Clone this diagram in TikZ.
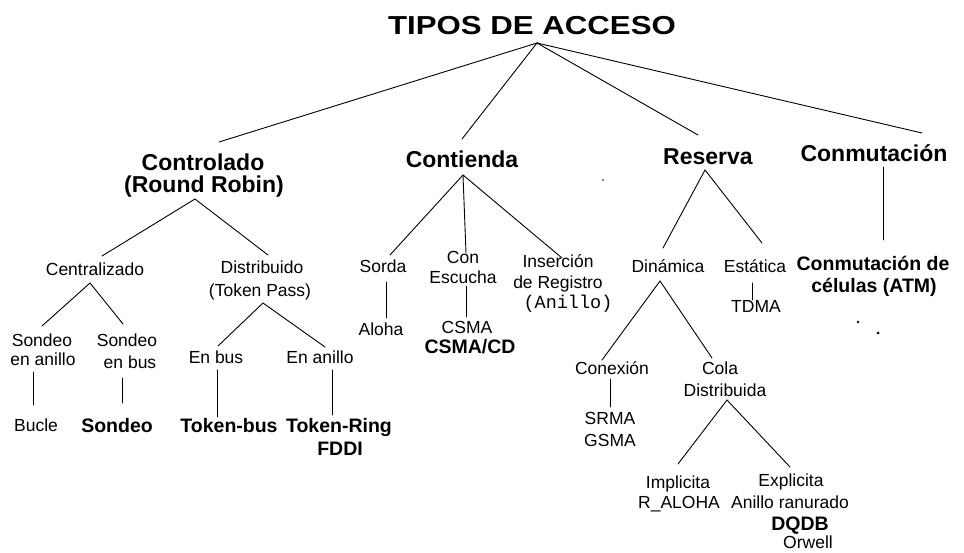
\documentclass[tikz,border=0pt]{standalone}
\usepackage{fontspec}
\setmainfont{Liberation Sans}
\newfontfamily\monofnt{Liberation Mono}
\begin{document}
\begin{tikzpicture}[x=1pt,y=-1pt,
  titlef/.style={font=\fontsize{26}{28}\selectfont\bfseries, inner sep=0pt, anchor=base},
  lone/.style={font=\fontsize{23}{26}\selectfont\bfseries, inner sep=0pt, anchor=base},
  reg/.style={font=\fontsize{17.5}{20}\selectfont, inner sep=0pt, anchor=base},
  bsm/.style={font=\fontsize{19.5}{22}\selectfont\bfseries, inner sep=0pt, anchor=base},
  mono/.style={font=\fontsize{18.5}{20}\monofnt, inner sep=0pt, anchor=base},
  edge/.style={line width=0.9pt, line cap=round}]
\useasboundingbox (0,0) rectangle (964,553);
% title
\node[titlef] (title) at (532,35) {\scalebox{1.2}[1]{TIPOS DE ACCESO}};
% level 1
\node[lone] (ctrl) at (203,171) {Controlado};
\node[lone] (ctrl2) at (204,193) {(Round Robin)};
\node[lone] (cont) at (462,168) {Contienda};
\node[lone] (res) at (708,165) {Reserva};
\node[lone] (conm) at (874,162) {Conmutación};
% controlado
\node[reg] (cen) at (95,276) {Centralizado};
\node[reg] (dis) at (262,274) {Distribuido};
\node[reg] (dis2) at (260,297) {(Token Pass)};
\node[reg] (sa1) at (42,346) {Sondeo};
\node[reg] (sa2) at (43,366) {en anillo};
\node[reg] (sb1) at (127,346) {Sondeo};
\node[reg] (sb2) at (130,368) {en bus};
\node[reg] (enb) at (216,363) {En bus};
\node[reg] (ena) at (320,363) {En anillo};
\node[reg] (buc) at (36,431) {Bucle};
\node[bsm] (son) at (117,432) {Sondeo};
\node[bsm] (tb) at (229,432) {Token-bus};
\node[bsm] (tr) at (339,432) {Token-Ring};
\node[bsm] (fddi) at (340,455) {FDDI};
% contienda
\node[reg] (sor) at (383,273) {Sorda};
\node[reg] (con1) at (463,264) {Con};
\node[reg] (con2) at (463,284) {Escucha};
\node[reg] (ins1) at (558,268) {Inserción};
\node[reg] (ins2) at (558,289) {de Registro};
\node[mono] (ins3) at (568,309) {(Anillo)};
\node[reg] (alo) at (381,336) {Aloha};
\node[reg] (csma) at (467,334) {CSMA};
\node[bsm] (csmacd) at (470,354) {CSMA/CD};
% reserva
\node[reg] (din) at (668,273) {Dinámica};
\node[reg] (est) at (755,273) {Estática};
\node[reg] (tdma) at (756,313) {TDMA};
\node[reg] (cnx) at (612,374) {Conexión};
\node[reg] (cola1) at (720,374) {Cola};
\node[reg] (cola2) at (725,396) {Distribuida};
\node[reg] (srma) at (610,424) {SRMA};
\node[reg] (gsma) at (610,446) {GSMA};
\node[reg] (imp1) at (678,488) {Implicita};
\node[reg] (imp2) at (679,508) {R\_ALOHA};
\node[reg] (exp1) at (791,486) {Explicita};
\node[reg] (exp2) at (790,508) {Anillo ranurado};
\node[bsm] (dqdb) at (800,530) {DQDB};
\node[reg] (orw) at (808,548) {Orwell};
% conmutacion
\node[bsm] (atm1) at (873,271) {Conmutación de};
\node[bsm] (atm2) at (874,293) {células (ATM)};
% connectors
\draw[edge] ([shift={(16,-29)}]ctrl.base) -- ([shift={(5,8)}]title.base)
  -- ([shift={(0,-29)}]cont.base);
\draw[edge] ([shift={(5,8)}]title.base) -- ([shift={(-10,-30)}]res.base);
\draw[edge] ([shift={(5,8)}]title.base) -- ([shift={(48,-29)}]conm.base);
\draw[edge] ([shift={(7,-20)}]cen.base) -- ([shift={(-9,6)}]ctrl2.base) -- ([shift={(6,-19)}]dis.base);
\draw[edge] ([shift={(0,-20)}]sa1.base) -- ([shift={(-5,7)}]cen.base) -- ([shift={(-4,-22)}]sb1.base);
\draw[edge] ([shift={(2,-17)}]enb.base) -- ([shift={(3,6)}]dis2.base) -- ([shift={(5,-16)}]ena.base);
\draw[edge] ([shift={(-10,6)}]sa2.base) -- ([shift={(-3,-26)}]buc.base);
\draw[edge] ([shift={(-8,10)}]sb2.base) -- ([shift={(5,-29)}]son.base);
\draw[edge] ([shift={(1,7)}]enb.base) -- ([shift={(-12,-15)}]tb.base);
\draw[edge] ([shift={(12,7)}]ena.base) -- ([shift={(-7,-17)}]tr.base);
\draw[edge] ([shift={(7,-18)}]sor.base) -- ([shift={(1,7)}]cont.base) -- ([shift={(4,-10)}]ins1.base);
\draw[edge] ([shift={(1,7)}]cont.base) -- ([shift={(3,-11)}]con1.base);
\draw[edge] ([shift={(3,9)}]sor.base) -- ([shift={(5,-18)}]alo.base);
\draw[edge] ([shift={(3,2)}]con2.base) -- ([shift={(-1,-17)}]csma.base);
\draw[edge] ([shift={(-5,-25)}]din.base) -- ([shift={(-3,5)}]res.base) -- ([shift={(7,-30)}]est.base);
\draw[edge] ([shift={(-3,10)}]est.base) -- ([shift={(-4,-13)}]tdma.base);
\draw[edge] ([shift={(9,5)}]conm.base) -- ([shift={(10,-31)}]atm1.base);
\draw[edge] ([shift={(-10,-14)}]cnx.base) -- ([shift={(-8,8)}]din.base) -- ([shift={(-8,-16)}]cola1.base);
\draw[edge] ([shift={(-2,5)}]cnx.base) -- ([shift={(0,-17)}]srma.base);
\draw[edge] ([shift={(0,-24)}]imp1.base) -- ([shift={(2,4)}]cola2.base) -- ([shift={(-1,-19)}]exp1.base);
% specks
\fill (858,322) circle (1.3);
\fill (878,333) circle (1.5);
\fill (603,180) circle (0.8);
\end{tikzpicture}
\end{document}
